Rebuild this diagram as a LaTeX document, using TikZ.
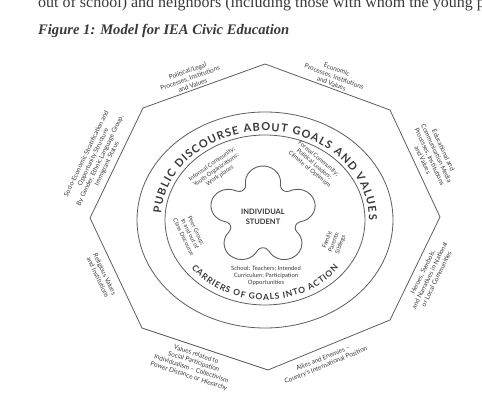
\documentclass[tikz,border=0pt]{standalone}
\usepackage{fontspec}
\setmainfont{Liberation Serif}
\setsansfont{Lato}
\usetikzlibrary{calc,decorations.text}

\definecolor{inkgray}{HTML}{3A3A3A}
\definecolor{linegray}{HTML}{5E5E5E}

\begin{document}
\begin{tikzpicture}
[x=1pt,y=1pt,
  ringLine/.style={draw=linegray,line width=0.8pt},
  flowerLine/.style={draw=linegray,line width=0.9pt},
  edgeLabel/.style={font=\sffamily\fontsize{6.4}{7.6}\selectfont,text=inkgray,align=center,inner sep=0pt,sloped},
  innerLabel/.style={font=\sffamily\fontsize{5.9}{7}\selectfont,text=inkgray,align=center,inner sep=0pt}]
\useasboundingbox[fill=white] (0,0) rectangle (482,-411);
%% page text
\node (bodyline) [anchor=base west,font=\fontsize{16}{18}\selectfont,text=inkgray,inner sep=0pt]
  at (38,-8) {out of school) and neighbors (including those with whom the young p};
\node (caption) [anchor=base west,font=\fontsize{14.6}{16}\bfseries\itshape\selectfont,text=inkgray,inner sep=0pt]
  at (38,-35) {Figure 1: Model for IEA Civic Education};
%% octagon corners
\foreach \vname/\x/\y in {T/265/64, UR/390/110, R/440/217, LR/390/320, B/268/370, LL/142/328, L/90/218, UL/143/108}
{
  \coordinate (\vname) at (\x,-\y);
}
\draw[ringLine] (T) -- (UR) -- (R) -- (LR) -- (B) -- (LL) -- (L) -- (UL) -- cycle;
%% labels outside the octagon
\path (UL) -- node[edgeLabel,above=2pt,pos=0.42] {Political/Legal\\Processes, Institutions\\and Values} (T);
\path (T) -- node[edgeLabel,above=2pt,pos=0.52] {Economic\\Processes, Institutions\\and Values} (UR);
\path (UR) -- node[edgeLabel,above=6pt,pos=0.5] {Educational and\\Communication Media\\Processes, Institutions\\and Values} (R);
\path (R) -- node[edgeLabel,below=6pt,pos=0.5] {Heroes, Symbols,\\and Narratives in National\\or Local Communities} (LR);
\path (LR) -- node[edgeLabel,below=7pt,pos=0.58] {Allies and Enemies --\\Country's International Position} (B);
\path (B) -- node[edgeLabel,below=5pt,pos=0.55] {Values related to\\Social Participation\\Individualism -- Collectivism\\Power Distance or Hierarchy} (LL);
\path (LL) -- node[edgeLabel,below=8pt,pos=0.53] {Religious Values\\and Institutions} (L);
\path (L) -- node[edgeLabel,above=5pt,pos=0.46] {Socio-Economic Stratification and\\Opportunity Structure\\By Gender, Ethnic Language Group,\\Immigrant Status} (UL);
%% rings
\coordinate (ctr) at (265,-220);
\draw[ringLine] (ctr) ellipse [x radius=128, y radius=108];
\draw[ringLine] (ctr) ellipse [x radius=100, y radius=85];
\path[decorate,decoration={text along path,text align={fit to path},text color=inkgray,
  text={|\sffamily\bfseries\fontsize{11}{11}\selectfont|PUBLIC DISCOURSE ABOUT GOALS AND VALUES}}]
  ($(ctr)+(176:104 and 89)$) arc[start angle=176, end angle=0, x radius=104, y radius=89];
\path[decorate,decoration={text along path,text align={fit to path},text color=inkgray,
  text={|\sffamily\bfseries\fontsize{8.5}{8.5}\selectfont|CARRIERS OF GOALS INTO ACTION}}]
  ($(ctr)+(217:92 and 80)$) arc[start angle=217, end angle=323, x radius=92, y radius=80];
%% student in the middle
\begin{scope}[shift={(263,-216)},xscale=1.1,yscale=1.02]
\draw[flowerLine] (15.85,30.8)
  \foreach \k in {0,...,4} {
    arc[start angle={-7.9+72*\k}, end angle={187.9+72*\k}, radius=16]
    arc[start angle={7.9+72*\k}, end angle={-115.9+72*\k}, radius=6]
  } -- cycle;
\end{scope}
\node (student) [innerLabel,font=\sffamily\bfseries\fontsize{7.5}{9.5}\selectfont] at (263,-217) {INDIVIDUAL\\STUDENT};
\node (informal) [innerLabel,rotate=35] at (216,-170) {Informal Community;\\Youth Organizations;\\Work places};
\node (formal) [innerLabel,rotate=-40] at (314,-164) {Formal Community;\\Political Leaders;\\Climate of Optimism};
\node (peers) [innerLabel,rotate=-64] at (190,-234) {Peer Group;\\In and out of\\Class Discourse};
\node (family) [innerLabel,rotate=70] at (334,-242) {Family;\\Parents;\\Siblings};
\node (school) [innerLabel] at (266,-276) {School: Teachers; Intended\\Curriculum; Participation\\Opportunities};
\end{tikzpicture}
\end{document}
